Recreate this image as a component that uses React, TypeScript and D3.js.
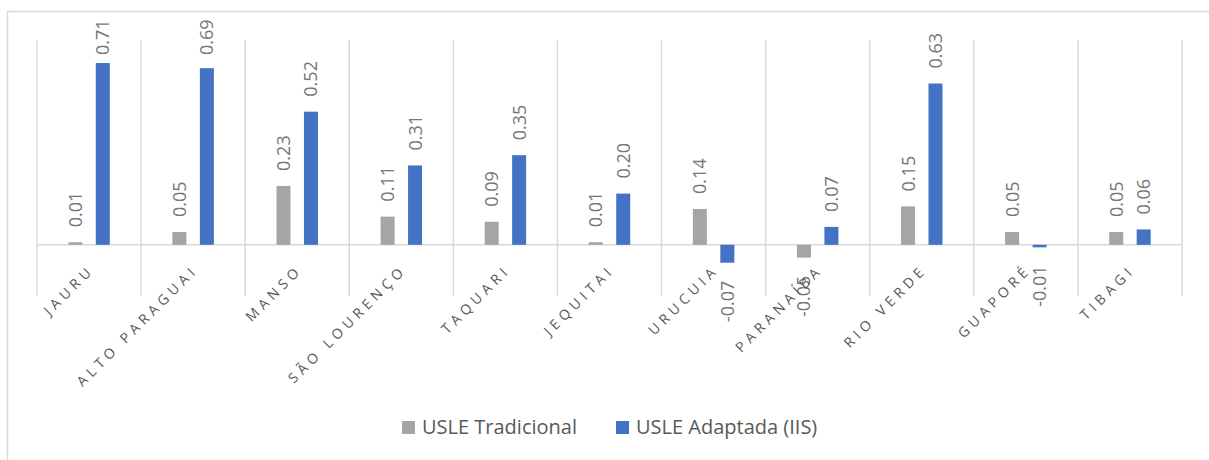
import React from 'react';
import * as d3 from 'd3';

const categories = ['JAURU', 'ALTO PARAGUAI', 'MANSO', 'SÃO LOURENÇO', 'TAQUARI', 'JEQUITAI', 'URUCUIA', 'PARANAÍBA', 'RIO VERDE', 'GUAPORÉ', 'TIBAGI'];
const seriesNames = ['USLE Tradicional', 'USLE Adaptada (IIS)'];
const tradicional = [0.01, 0.05, 0.23, 0.11, 0.09, 0.01, 0.14, -0.05, 0.15, 0.05, 0.05];
const adaptada = [0.71, 0.69, 0.52, 0.31, 0.35, 0.2, -0.07, 0.07, 0.63, -0.01, 0.06];
const colors = ['#A5A5A5', '#4472C4'];

const W = 1209;
const H = 460;
const FONT = '"Open Sans", "Noto Sans", sans-serif';

const App = () => {
  const plotTop = 40;
  const plotBottom = 296;

  const x = d3.scaleBand<string>().domain(categories).range([37, 1182]);
  const x1 = d3.scaleBand<string>().domain(seriesNames).range([0, x.bandwidth()]).paddingInner(0.49).paddingOuter(1.14);
  const y = d3.scaleLinear().domain([-0.2, 0.8]).range([plotBottom, plotTop]);

  const values = [tradicional, adaptada];
  const gridX = categories.map(c => x(c) as number).concat([x.range()[1]]);

  return (
    <svg width={W} height={H} style={{ position: 'absolute', left: 0, top: 0, background: '#fff' }}>
      <rect x={7.5} y={11.5} width={W} height={H} fill="#fff" stroke="#D9D9D9" strokeWidth={1.5} />

      {/* category separators */}
      {gridX.map((gx, i) => (
        <line key={i} x1={gx} x2={gx} y1={plotTop} y2={plotBottom} stroke="#D9D9D9" strokeWidth={1.5} />
      ))}
      <line x1={x.range()[0]} x2={x.range()[1]} y1={y(0)} y2={y(0)} stroke="#D9D9D9" strokeWidth={1.5} />

      {/* bars */}
      {seriesNames.map((s, si) =>
        categories.map((c, ci) => {
          const v = values[si][ci];
          const bx = (x(c) as number) + (x1(s) as number);
          return (
            <rect key={s + c} x={bx} width={x1.bandwidth()} y={Math.min(y(v), y(0))} height={Math.abs(y(v) - y(0))} fill={colors[si]} />
          );
        })
      )}

      {/* data labels, kept inside the chart area */}
      {seriesNames.map((s, si) =>
        categories.map((c, ci) => {
          const v = values[si][ci];
          const cx = (x(c) as number) + (x1(s) as number) + x1.bandwidth() / 2;
          const ly = v >= 0 ? Math.max(y(v) - 15, 55) : y(v) + 18;
          return (
            <text
              key={'l' + s + c}
              transform={`translate(${cx},${ly}) rotate(-90)`}
              textAnchor={v >= 0 ? 'start' : 'end'}
              dy="0.36em"
              fontSize={18}
              fontFamily={FONT}
              fill="#767676"
            >
              {v.toFixed(2)}
            </text>
          );
        })
      )}

      {/* category labels */}
      {categories.map(c => {
        const cx = (x(c) as number) + x.bandwidth() / 2;
        return (
          <text
            key={'c' + c}
            transform={`translate(${cx + 6},${y(0) + 26}) rotate(-45)`}
            textAnchor="end"
            fontSize={14}
            letterSpacing={4.5}
            fontFamily={FONT}
            fill="#595959"
          >
            {c}
          </text>
        );
      })}

      {/* legend */}
      {seriesNames.map((s, si) => {
        const lx = si === 0 ? 402 : 616;
        return (
          <g key={'lg' + s}>
            <rect x={lx} y={421} width={13} height={13} fill={colors[si]} />
            <text x={lx + 20} y={434} fontSize={20} fontFamily={FONT} fill="#595959">
              {s}
            </text>
          </g>
        );
      })}
    </svg>
  );
};

export default App;
